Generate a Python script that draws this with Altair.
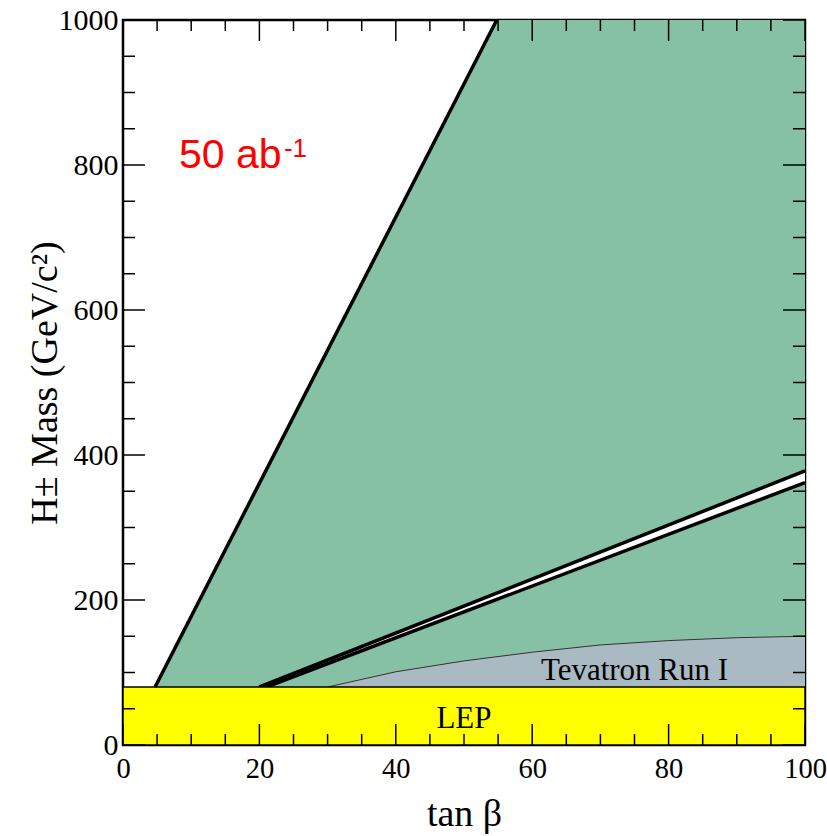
import altair as alt
import pandas as pd

W, H = 682, 725

# LHC 5-sigma discovery region boundary (left edge of green region)
lhc_x = [4.7, 54.8, 100]
lhc_y = [80, 1000, 1000]

# Tevatron Run I excluded region upper boundary
tev_x = [30, 40, 50, 60, 70, 80, 90, 100]
tev_y = [80, 101, 116, 128, 138, 144, 148, 150]

# double (white) band
band_up_x = [20, 100]
band_up_y = [80, 378]
band_lo_x = [21, 100]
band_lo_y = [80, 362]
band_x = [21, 100]
band_top = [83.7, 378]
band_bot = [80, 362]

# LEP excluded region
lep_x0, lep_x1, lep_y0, lep_y1 = 0, 100, 0, 80

# ticks
x_major = [0, 20, 40, 60, 80, 100]
x_minor = [5, 10, 15, 25, 30, 35, 45, 50, 55, 65, 70, 75, 85, 90, 95]
y_major = [0, 200, 400, 600, 800, 1000]
y_minor = [50, 100, 150, 250, 300, 350, 450, 500, 550, 650, 700, 750, 850, 900, 950]

# labels
labels = pd.DataFrame({
    "x": [50, 75],
    "y": [23, 90],
    "t": ["LEP", "Tevatron Run I"],
})
lumi_main = pd.DataFrame({"x": [8.2], "y": [796], "t": ["50 ab"]})
lumi_sup = pd.DataFrame({"x": [23.6], "y": [811], "t": ["-1"]})

xs = alt.Scale(domain=[0, 100], nice=False, zero=False)
ys = alt.Scale(domain=[0, 1000], nice=False, zero=False)

serif = "Liberation Serif"

xaxis = alt.Axis(values=x_major, ticks=False, tickSize=0, domain=False, grid=False, format="d",
                 labelFont=serif, labelFontSize=28.5, labelColor="black", labelPadding=9,
                 labelFlush=False, labelOverlap=False,
                 title="tan β", titleFont=serif, titleFontSize=38, titleFontWeight="normal",
                 titleColor="black", titleY=80, titleBaseline="alphabetic")
yaxis = alt.Axis(values=y_major, ticks=False, tickSize=0, domain=False, grid=False, format="d",
                 labelFont=serif, labelFontSize=30, labelColor="black", labelPadding=5,
                 labelFlush=False, labelOverlap=False,
                 title="H± Mass (GeV/c²)", titleFont=serif, titleFontSize=38,
                 titleFontWeight="normal", titleColor="black", titleAngle=-90,
                 titleX=-78, titleY=H / 2, titleBaseline="middle", titleAlign="center")

green_df = pd.DataFrame({"x": lhc_x, "y": lhc_y, "y2": [80] * len(lhc_x)})
green = alt.Chart(green_df).mark_area(color="#86C1A5", opacity=1).encode(
    x=alt.X("x:Q", scale=xs, axis=xaxis),
    y=alt.Y("y:Q", scale=ys, axis=yaxis),
    y2="y2:Q",
)

tev_df = pd.DataFrame({"x": tev_x, "y": tev_y, "y2": [80] * len(tev_x)})
tev = alt.Chart(tev_df).mark_area(color="#AABAC3", opacity=1).encode(
    x=alt.X("x:Q", scale=xs), y=alt.Y("y:Q", scale=ys), y2="y2:Q")
tev_line = alt.Chart(tev_df).mark_line(color="#333333", strokeWidth=1).encode(
    x=alt.X("x:Q", scale=xs), y=alt.Y("y:Q", scale=ys))

band_df = pd.DataFrame({"x": band_x, "y": band_top, "y2": band_bot})
band = alt.Chart(band_df).mark_area(color="white", opacity=1).encode(
    x=alt.X("x:Q", scale=xs), y=alt.Y("y:Q", scale=ys), y2="y2:Q")
up_line = alt.Chart(pd.DataFrame({"x": band_up_x, "y": band_up_y})).mark_line(
    color="black", strokeWidth=3.5).encode(x=alt.X("x:Q", scale=xs), y=alt.Y("y:Q", scale=ys))
lo_line = alt.Chart(pd.DataFrame({"x": band_lo_x, "y": band_lo_y})).mark_line(
    color="black", strokeWidth=3.5).encode(x=alt.X("x:Q", scale=xs), y=alt.Y("y:Q", scale=ys))

lep = alt.Chart(pd.DataFrame({"x": [lep_x0], "x2": [lep_x1], "y": [lep_y0], "y2": [lep_y1]})).mark_rect(
    color="#FFFF00", stroke="black", strokeWidth=1.5, opacity=1).encode(
    x=alt.X("x:Q", scale=xs), x2="x2:Q", y=alt.Y("y:Q", scale=ys), y2="y2:Q")

left_line = alt.Chart(pd.DataFrame({"x": lhc_x[:2], "y": lhc_y[:2]})).mark_line(
    color="black", strokeWidth=3.5).encode(x=alt.X("x:Q", scale=xs), y=alt.Y("y:Q", scale=ys))

text = alt.Chart(labels).mark_text(font=serif, fontSize=31, color="black", align="center",
                                   baseline="alphabetic").encode(
    x=alt.X("x:Q", scale=xs), y=alt.Y("y:Q", scale=ys), text="t:N")
lumi1 = alt.Chart(lumi_main).mark_text(font="Liberation Sans", fontSize=41, color="#FF0000",
                                       align="left", baseline="alphabetic").encode(
    x=alt.X("x:Q", scale=xs), y=alt.Y("y:Q", scale=ys), text="t:N")
lumi2 = alt.Chart(lumi_sup).mark_text(font="Liberation Sans", fontSize=26, color="#FF0000",
                                      align="left", baseline="alphabetic").encode(
    x=alt.X("x:Q", scale=xs), y=alt.Y("y:Q", scale=ys), text="t:N")


def xticks(vals, length):
    df = pd.DataFrame({"v": vals})
    bot = alt.Chart(df).mark_rule(color="black", strokeWidth=1.5).encode(
        x=alt.X("v:Q", scale=xs), y=alt.value(H), y2=alt.value(H - length))
    top = alt.Chart(df).mark_rule(color="black", strokeWidth=1.5).encode(
        x=alt.X("v:Q", scale=xs), y=alt.value(0), y2=alt.value(length))
    return [bot, top]


def yticks(vals, length):
    df = pd.DataFrame({"v": vals})
    left = alt.Chart(df).mark_rule(color="black", strokeWidth=1.5).encode(
        y=alt.Y("v:Q", scale=ys), x=alt.value(0), x2=alt.value(length))
    right = alt.Chart(df).mark_rule(color="black", strokeWidth=1.5).encode(
        y=alt.Y("v:Q", scale=ys), x=alt.value(W), x2=alt.value(W - length))
    return [left, right]


ticks = xticks(x_major, 21) + xticks(x_minor, 11) + yticks(y_major, 22) + yticks(y_minor, 12)

chart = alt.layer(
    green, tev, tev_line, band, up_line, lo_line, lep, left_line, text, lumi1, lumi2, *ticks
).properties(
    width=W, height=H,
    autosize=alt.AutoSizeParams(type="none"),
    padding={"left": 123, "top": 20, "right": 22, "bottom": 91},
    background="white",
).configure_view(stroke="black", strokeWidth=2.5)

chart.save("out.html", embed_options={"renderer": "svg", "actions": False})
